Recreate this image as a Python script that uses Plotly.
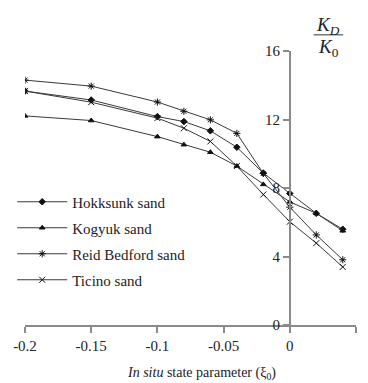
import plotly.graph_objects as go

# In situ state parameter values (x) and K_D/K_0 for each sand
xi = [-0.2, -0.15, -0.1, -0.08, -0.06, -0.04, -0.02, 0.0, 0.02, 0.04]
hokksunk = [13.66, 13.14, 12.17, 11.88, 11.34, 10.38, 8.87, 7.68, 6.52, 5.59]
kogyuk = [12.21, 11.94, 11.0, 10.53, 10.09, 9.28, 8.21, 7.19, 6.52, 5.50]
reid_bedford = [14.30, 13.95, 13.02, 12.48, 11.98, 11.19, 8.85, 6.88, 5.26, 3.81]
ticino = [13.66, 13.01, 12.08, 11.49, 10.72, 9.28, 7.62, 6.03, 4.78, 3.39]

series_names = ["Hokksunk sand", "Kogyuk sand", "Reid Bedford sand", "Ticino sand"]
x_ticks = [-0.2, -0.15, -0.1, -0.05, 0, 0.05]
x_tick_text = ["-0.2", "-0.15", "-0.1", "-0.05", "0", "0.05"]
y_ticks = [0, 4, 8, 12, 16]

W, H = 368, 383
L, R, T, B = 20, 12, 50.5, 57.5
PW, PH = W - L - R, H - T - B


def px(xp):
    return (xp - L) / PW


def py(yp):
    return (H - B - yp) / PH


serif = "Liberation Serif"
text_col = "#222222"
line_col = "#3a3a3a"
axis_col = "#8a8a8a"

styles = [
    dict(symbol="diamond", size=5),
    dict(symbol="triangle-up", size=5),
    dict(symbol="asterisk-open", size=6),
    dict(symbol="x-thin-open", size=6),
]

fig = go.Figure()
for i, (name, ys, st) in enumerate(zip(series_names, [hokksunk, kogyuk, reid_bedford, ticino], styles)):
    fig.add_trace(go.Scatter(
        x=xi, y=ys, name=name, mode="lines+markers",
        legendgroup=f"g{i}",
        line=dict(color=line_col, width=1),
        marker=dict(symbol=st["symbol"], size=st["size"], color="#111111",
                    line=dict(color="#111111", width=1)),
    ))

fig.update_layout(
    width=W, height=H,
    margin=dict(l=L, r=R, t=T, b=B),
    paper_bgcolor="white", plot_bgcolor="white",
    font=dict(family=serif, size=15, color=text_col),
    showlegend=True,
    legend=dict(
        x=px(7), y=py(185.5), xanchor="left", yanchor="top",
        bgcolor="rgba(0,0,0,0)", borderwidth=0,
        font=dict(family=serif, size=15, color=text_col),
        tracegroupgap=3.5, traceorder="grouped",
        itemwidth=50,
    ),
    xaxis=dict(
        range=[-0.2, 0.05], tickvals=x_ticks, ticktext=x_tick_text,
        showline=True, linecolor=axis_col, linewidth=1.5,
        ticks="outside", ticklen=6, tickcolor=axis_col, tickwidth=1.5,
        showgrid=False, zeroline=False,
        tickfont=dict(family=serif, size=15, color=text_col),
    ),
    yaxis=dict(
        range=[0, 16], tickvals=y_ticks,
        anchor="free", position=0.8, side="left",
        showline=True, linecolor=axis_col, linewidth=1.5,
        ticks="outside", ticklen=6, tickcolor=axis_col, tickwidth=1.5,
        showgrid=False, zeroline=False,
        tickfont=dict(family=serif, size=15, color=text_col),
    ),
)

# x-axis title
fig.add_annotation(
    x=px(199), y=py(374), xref="paper", yref="paper",
    text="<i>In situ</i> state parameter (ξ<sub>0</sub>)",
    showarrow=False, xanchor="center", yanchor="middle",
    font=dict(family=serif, size=14, color=text_col),
)

# y-axis label as a fraction K_D / K_0
fig.add_annotation(
    x=px(328), y=py(25), xref="paper", yref="paper",
    text="<i>K</i><sub><i>D</i></sub>", showarrow=False,
    xanchor="center", yanchor="middle",
    font=dict(family=serif, size=19, color=text_col),
)
fig.add_annotation(
    x=px(328), y=py(47), xref="paper", yref="paper",
    text="<i>K</i><sub>0</sub>", showarrow=False,
    xanchor="center", yanchor="middle",
    font=dict(family=serif, size=19, color=text_col),
)
fig.add_shape(
    type="line", xref="paper", yref="paper",
    x0=px(313), x1=px(343), y0=py(34.3), y1=py(34.3),
    line=dict(color="#333333", width=1),
)

fig.write_html("out.html")
